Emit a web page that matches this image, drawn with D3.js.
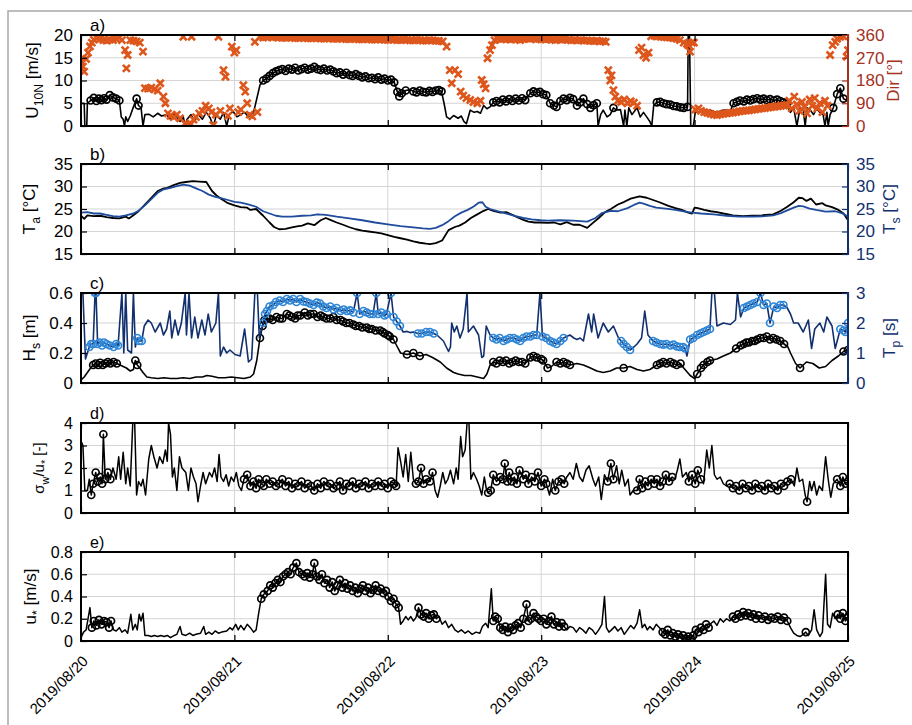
<!DOCTYPE html>
<html lang="en">
<head>
<meta charset="utf-8">
<title>Wind, temperature, waves and turbulence, 2019/08/20 - 2019/08/25</title>
<script src="https://cdn.jsdelivr.net/npm/d3@7"></script>
<style>
  body { margin: 0; background: #fff; }
</style>
</head>
<body>
<svg id="chart" width="912" height="725"></svg>
<script>
// time is in hours since 2019/08/20 00:00
const dayTicks = [0, 24, 48, 72, 96, 120];
const dayLabels = ['2019/08/20', '2019/08/21', '2019/08/22', '2019/08/23', '2019/08/24', '2019/08/25'];

// a) wind speed U10N [m/s] and direction [deg]
const u10n = [[0,5],[0.5,5],[0.6,0],[0.9,0],[1.0,5],[1.5,5.6],[2,6.2],[2.4,5.5],[2.8,6],[3.2,5.7],[3.6,6.1],[4,5.8],[4.5,6.8],[5,6.3],[5.5,6],[6,5.6],[6.3,2],[6.6,1.5],[6.8,0],[7,2],[7.3,1],[7.7,2.2],[8.2,4.2],[8.7,6],[9,4.5],[9.4,4],[9.7,0],[10,2.5],[10.6,2.6],[11.3,2],[12,2.8],[12.6,2.2],[13.4,2.5],[14,1.5],[14.5,2.8],[15,2],[15.5,1],[16,2],[16.3,0],[16.6,1.5],[17.2,2.5],[17.8,1],[18.3,2.6],[19,1.5],[19.6,3],[20.2,1.8],[20.7,0],[21.2,2.5],[21.8,1.5],[22.3,3],[22.8,0],[23.2,2.5],[23.8,3.2],[24.4,2],[25,2.5],[25.6,3],[26.2,2],[27,3],[27.5,6],[28,9],[28.5,10],[29,10.4],[29.5,11],[30,11.6],[30.5,12],[31,12.3],[31.5,12.5],[32,12.1],[32.5,12.6],[33,12.4],[33.5,12.8],[34,12.2],[34.5,12.5],[35,12.8],[35.5,12.4],[36,12.6],[36.5,13],[37,12.5],[37.5,12.3],[38,12.6],[38.5,12.2],[39,12.4],[39.5,12],[40,11.6],[40.5,11.8],[41,11.3],[41.5,11.7],[42,11.2],[42.5,11],[43,11.4],[43.5,11],[44,10.7],[44.5,10.9],[45,10.5],[45.5,10.6],[46,10.3],[46.5,10.7],[47,10.2],[47.5,10.4],[48,10],[48.5,10.2],[49,9.6],[49.5,7.5],[49.8,6.5],[50.2,7.2],[50.8,7.8],[51.5,8],[52,7.6],[52.5,7.4],[53,7.8],[53.5,7.5],[54,7.4],[54.5,7.7],[55,7.5],[55.5,7.8],[56,7.9],[56.4,7.6],[56.8,5],[57.2,2],[57.7,1.5],[58.3,2.3],[59,1.7],[59.5,2.2],[59.9,1],[60.3,0.5],[60.9,3.5],[61.5,3],[62,3.2],[62.5,2.8],[63,4.5],[63.5,3.8],[64,4.2],[64.5,5.2],[65,5.5],[65.5,5.2],[66,5.8],[66.5,5.4],[67,5.9],[67.5,5.5],[68,6],[68.5,5.6],[69,6.1],[69.5,5.7],[70.3,7.2],[70.8,7.6],[71.3,7.3],[71.8,7.5],[72.3,7],[72.8,6.8],[73.4,5],[74,4.5],[74.4,4.2],[75,5.5],[75.5,6],[76,5.7],[76.5,6.2],[77,5.9],[77.6,4.5],[78.1,5.2],[78.6,6],[79.2,4.8],[79.7,4],[80.2,4.6],[80.7,5],[80.9,0],[81.3,2.5],[81.7,3.5],[82.3,2],[82.8,2.5],[83.3,4],[83.8,3.5],[84.4,3.6],[84.9,0],[85.1,3.5],[85.4,0],[85.7,4],[86.2,2.5],[87,4],[87.5,2],[88,3],[88.5,2],[89,1],[89.3,0],[89.6,4.5],[90.1,5.2],[90.6,5.3],[91.1,5],[91.6,4.8],[92.2,4.7],[92.7,4.4],[93.2,4.3],[93.8,4.1],[94.3,4],[94.9,4.2],[95,20],[95.2,20],[95.4,0],[95.8,0],[96.1,3],[96.8,3.2],[97.4,3],[98,3.3],[98.4,3.5],[99,3.2],[99.5,3],[100.5,3.5],[101.6,3.4],[102.1,5],[102.6,5.3],[103.1,5.6],[103.7,5.4],[104.2,5.8],[104.7,5.6],[105.2,5.9],[105.8,6.1],[106.3,5.8],[106.8,6],[107.3,5.7],[107.8,5.9],[108.4,5.6],[108.9,5.8],[109.4,5.5],[109.9,5.2],[110.4,4.8],[111,3],[111.5,4],[112,0],[112.5,4],[113,3.5],[113.3,0],[113.6,4],[114.1,3.5],[114.6,2.5],[115.1,3.8],[115.6,3],[116.1,2.5],[116.4,0],[116.7,3],[116.9,0],[117.2,2.5],[117.7,4],[118.3,7],[118.8,8.3],[119.3,6],[120,5.5]];
const u10nFlag = [[1.5,6],[8.5,9.2],[28.5,49.9],[50.2,50.8],[52,56.4],[64.5,80.7],[83.3,83.3],[90.1,94.9],[102.1,110.4],[117.7,119.5]];
const windDir = [[0,255],[0.3,235],[0.5,215],[0.8,265],[1.1,290],[1.4,315],[1.7,330],[2,342],[2.5,348],[3,345],[3.5,340],[4,338],[4.5,342],[5,340],[5.5,345],[6,350],[6.4,340],[6.9,300],[7.1,228],[7.3,281],[7.7,340],[8.2,338],[8.7,335],[9.2,330],[9.7,294],[10,150],[10.5,148],[11,152],[11.5,145],[12,140],[12.4,169],[12.9,116],[13.2,90],[13.6,50],[14,40],[14.5,35],[15,45],[15.5,30],[16,353],[16.3,10],[16.8,4],[17.2,8],[17.3,353],[17.6,25],[18,35],[18.5,50],[19,60],[19.5,80],[20,70],[20.4,55],[20.7,4],[21.1,45],[21.5,353],[21.8,60],[22.3,221],[22.6,195],[23,40],[23.3,70],[23.6,314],[24,290],[24.3,300],[24.6,55],[25,65],[25.4,162],[25.7,136],[26,90],[26.4,45],[26.8,38],[27.2,333],[27.6,55],[28,353],[28.5,350],[29,352],[29.5,355],[30,350],[30.5,352],[31,351],[31.5,349],[32,349],[32.5,351],[33,350],[33.5,348],[34,348],[34.5,350],[35,349],[35.5,347],[36,347],[36.5,349],[37,348],[37.5,346],[38,346],[38.5,348],[39,347],[39.5,345],[40,345],[40.5,347],[41,346],[41.5,344],[42,344],[42.5,346],[43,345],[43.5,343],[44,343],[44.5,345],[45,344],[45.5,342],[46,342],[46.5,344],[47,343],[47.5,341],[48,341],[48.5,343],[49,342],[49.5,340],[50,340],[50.5,342],[51,341],[51.5,339],[52,339],[52.5,341],[53,340],[53.5,338],[54,338],[54.5,340],[55,339],[55.5,337],[56,337],[56.6,335],[57.2,314],[57.7,221],[58,169],[58.5,221],[59,205],[59.4,136],[59.8,120],[60.3,110],[60.9,103],[61.4,95],[62,90],[62.5,100],[62.7,182],[63,165],[63.3,149],[63.6,268],[64,300],[64.3,320],[64.7,340],[65.2,345],[65.7,343],[66.2,346],[66.7,344],[67.2,342],[67.7,345],[68.2,343],[68.7,340],[69.2,344],[69.7,346],[70.2,345],[70.7,347],[71.2,343],[71.7,345],[72.2,344],[72.7,342],[73.2,345],[73.7,342],[74.2,340],[74.7,343],[75.2,341],[75.7,343],[76.2,341],[76.7,339],[77.2,341],[77.7,339],[78.2,340],[78.7,338],[79.2,339],[79.7,337],[80.2,336],[80.7,338],[81.2,335],[81.7,336],[82.1,333],[82.5,221],[82.8,180],[83,200],[83.3,142],[83.6,116],[84,100],[84.5,95],[85,105],[85.5,90],[86,98],[86.5,92],[87,80],[87.3,300],[87.7,310],[88,280],[88.4,270],[88.8,290],[89.2,355],[89.7,358],[90.2,355],[90.7,353],[91.2,352],[91.7,351],[92.2,350],[92.7,348],[93.2,345],[93.7,340],[94.3,330],[94.8,325],[95,320],[95.3,294],[95.6,330],[95.9,330],[96.1,65],[96.6,70],[97,60],[97.5,55],[98,52],[98.5,48],[99,45],[99.5,43],[100,46],[100.5,48],[101,50],[101.5,52],[102,53],[102.5,55],[103,58],[103.5,60],[104,61],[104.5,62],[105,64],[105.5,66],[106,68],[106.5,70],[107,71],[107.5,73],[108,75],[108.5,76],[109,78],[109.5,80],[110,81],[110.4,83],[110.8,100],[111.2,70],[111.6,116],[112,85],[112.4,60],[112.8,95],[113.2,75],[113.6,50],[114,105],[114.4,80],[114.8,110],[115.2,70],[115.6,90],[116,55],[116.4,100],[116.8,80],[117.2,281],[117.6,320],[118,333],[118.3,345],[118.8,353],[119.3,355],[119.8,274],[120,300]];

// b) air and surface temperature [degC]
const airTemp = [[0,23.5],[0.5,22.8],[1,23.6],[2,23.4],[3,23.5],[4,23.2],[5,23],[6,22.9],[7,23.3],[7.5,22.9],[8.2,23.6],[9,24.5],[10,26],[11,27.5],[12,29],[12.8,29.5],[13.5,29.7],[14.5,30.3],[15.5,30.8],[16.4,31],[17.5,31.2],[18.5,31.1],[19.6,31],[20.5,29],[21.2,28],[21.9,27.3],[23,26.3],[24,25.8],[25,25.4],[26,25.3],[26.5,24.8],[27.4,25],[28.5,23.5],[29.5,22],[30.2,21],[31,20.5],[32,20.6],[33,20.9],[34,21.2],[34.6,21.3],[35.5,21.8],[36.5,21.4],[37.5,22.5],[38.3,23.0],[39,22.6],[40,22],[41,21.5],[41.9,21],[43,20.5],[44,20.2],[45,20],[46,19.8],[47,19.6],[48,19.2],[49,18.8],[50,18.5],[51,18.2],[52,17.8],[53,17.5],[54,17.3],[54.6,17.2],[55.5,17.4],[56.5,18],[57.5,20.3],[58.5,21],[59.2,21.3],[60.1,22],[61,23],[62,23.8],[63,24.6],[63.7,25],[64.5,24.6],[65.6,24.2],[66.5,24.3],[67.5,23.7],[68.5,23],[69.2,22.6],[70,22.2],[71,22],[71.9,22],[73,21.9],[74,22],[75,21.6],[76,22.1],[77,21.5],[78,21.5],[79.2,20.8],[80,21.8],[81,23],[82,24.3],[82.9,25],[84,26],[85,26.6],[86,27.3],[87.4,27.8],[88.5,27.5],[89.5,27],[90.5,26.5],[91.9,25.7],[93,25.2],[94,24.8],[95,24.2],[95.6,24],[96,25.3],[96.5,25.2],[97.5,24.8],[98.5,24.5],[99.5,24.3],[100.5,24],[102,23.6],[103.5,23.4],[105,23.5],[106.5,23.6],[108.3,23.8],[109.5,24.6],[110.5,25.5],[111.5,26.5],[112.3,27.5],[112.9,27.4],[113.5,26.8],[114.2,27.3],[115,26],[116,26.3],[116.5,25.8],[117.5,25.4],[118.5,24.8],[119.3,24],[120,22.5]];
const surfTemp = [[0,24.2],[1,24.3],[2,24],[3,24],[4,23.7],[5,23.4],[6,23.3],[7,23.6],[8.2,24],[9,24.6],[10,25.8],[11,27.2],[12,28.6],[12.8,29.3],[14,29.7],[15,30.1],[16,30.4],[17,30.2],[18,29.6],[19,29],[20,28.2],[21,27.7],[21.9,27.4],[23,27],[24,26.6],[25,26.4],[26,26.1],[27.4,25.5],[28.5,24.5],[29.5,24],[30.5,23.5],[31.5,23.3],[33,23.3],[34.6,23.5],[36,23.6],[37,23.8],[38.3,23.7],[40,23.3],[42,22.9],[44,22.5],[46,22],[48,21.6],[50,21.2],[52,20.9],[53.5,20.7],[54.6,20.6],[55.5,20.8],[56.5,21.4],[57.5,22.3],[58.5,23.4],[59.5,24.2],[60.5,24.8],[61.5,25.6],[62.2,26.4],[62.8,26.5],[63.3,25.5],[64,25],[65,24.6],[66,24.2],[67,23.8],[68,23.4],[69.2,23],[70.5,22.7],[71.9,22.5],[73,22.4],[75,22.5],[77,22.4],[79.2,22.2],[80.5,23],[81.5,24.1],[82.9,24.6],[84,24.5],[85.5,25.2],[86.5,25.9],[87.4,26.4],[88,26.2],[89,25.7],[90,25.3],[91.5,25.1],[93,24.8],[94.5,24.4],[95.6,24.2],[97,24],[99,23.8],[101,23.5],[103,23.3],[105,23.3],[107,23.4],[108.3,23.6],[109.5,24.1],[110.5,24.7],[111.5,25.3],[112.3,25.7],[113,25.6],[114,25.1],[115,24.8],[116.5,24.4],[118,24.5],[119,24.1],[120,23.3]];

// c) significant wave height Hs [m] and peak period Tp [s]
const waveHs = [[0,0.02],[0.5,0.04],[1,0.07],[1.5,0.1],[1.9,0.12],[2.3,0.13],[2.7,0.12],[3,0.135],[3.4,0.12],[3.8,0.13],[4.2,0.14],[4.6,0.13],[5.1,0.14],[5.6,0.13],[6.1,0.12],[6.6,0.11],[7.1,0.1],[7.7,0.08],[8.2,0.09],[8.5,0.15],[8.8,0.12],[9.2,0.1],[9.7,0.07],[10.3,0.04],[11,0.035],[12,0.03],[13,0.035],[14,0.03],[15,0.03],[16,0.035],[17,0.03],[18,0.04],[19,0.04],[19.7,0.05],[20.5,0.045],[21.5,0.035],[22.5,0.035],[23.5,0.04],[24.5,0.035],[25.5,0.03],[26.5,0.04],[27,0.06],[27.5,0.15],[28,0.3],[28.4,0.38],[28.7,0.42],[29.1,0.43],[29.5,0.43],[30,0.42],[30.6,0.44],[31.1,0.43],[31.5,0.43],[32.2,0.46],[32.6,0.45],[33,0.44],[33.5,0.43],[33.9,0.45],[34.3,0.45],[35,0.47],[35.5,0.45],[35.9,0.46],[36.4,0.46],[37,0.44],[37.5,0.45],[37.9,0.44],[38.4,0.43],[39,0.43],[39.5,0.44],[40,0.42],[40.6,0.42],[41,0.41],[41.5,0.4],[42,0.4],[42.6,0.39],[43,0.38],[43.5,0.38],[44,0.37],[44.7,0.37],[45.1,0.36],[45.5,0.36],[46.1,0.35],[46.8,0.35],[47.2,0.34],[47.5,0.33],[48,0.32],[48.3,0.31],[48.9,0.29],[49.5,0.24],[50,0.2],[51,0.19],[52,0.2],[53,0.18],[54,0.19],[55,0.17],[56.2,0.14],[57.2,0.1],[58.3,0.07],[59,0.06],[60,0.05],[61,0.05],[62,0.04],[63,0.03],[63.5,0.06],[64,0.12],[64.5,0.14],[65,0.13],[65.5,0.15],[66,0.14],[66.5,0.15],[67,0.13],[67.5,0.14],[68,0.15],[68.5,0.14],[69,0.14],[69.5,0.13],[70.3,0.17],[70.8,0.18],[71.3,0.17],[72,0.16],[72.3,0.15],[73,0.1],[73.6,0.11],[74.4,0.14],[75,0.13],[75.5,0.14],[76,0.13],[76.5,0.12],[77.6,0.13],[78.6,0.12],[79.7,0.1],[80.7,0.08],[81.7,0.07],[82.8,0.08],[83.8,0.1],[84.9,0.1],[85.9,0.11],[87,0.09],[88,0.08],[89,0.09],[90.1,0.12],[90.6,0.13],[91.1,0.14],[91.6,0.13],[92.2,0.14],[92.7,0.13],[93.2,0.12],[93.8,0.13],[94.3,0.1],[95.3,0.05],[96,0.03],[96.4,0.06],[97,0.1],[97.4,0.12],[98,0.14],[98.4,0.15],[99.5,0.16],[100.5,0.18],[101.6,0.2],[102.5,0.23],[103.2,0.25],[103.7,0.26],[104.1,0.27],[104.5,0.27],[105,0.28],[105.4,0.28],[105.8,0.29],[106.3,0.3],[106.8,0.3],[107.3,0.31],[107.8,0.29],[108.3,0.3],[108.8,0.29],[109.4,0.28],[110,0.26],[110.6,0.24],[111,0.2],[111.8,0.13],[112.5,0.1],[113.5,0.14],[114.5,0.13],[115.5,0.1],[116.5,0.11],[117.5,0.15],[118.5,0.18],[119.3,0.21],[120,0.22]];
const waveHsFlag = [[1.9,5.6],[8.3,9],[28,49],[51,53.2],[64.3,72.3],[73,73],[74.3,76.5],[84,85],[90.1,93.8],[96.4,98.4],[102.5,110],[112.5,112.5],[119.3,120]];
const peakTp = [[0,3],[0.3,3],[0.7,0.8],[1.3,1.2],[1.6,1.3],[1.9,1.3],[2.2,3],[2.35,3],[2.6,1.3],[2.9,1.35],[3.3,1.25],[3.6,1.35],[4,1.3],[4.5,1.25],[5.1,1.2],[5.5,1.3],[5.8,1.25],[6.4,3],[6.7,1.0],[7,3],[7.3,1.1],[7.9,1.0],[8.2,3],[8.5,1.2],[8.8,1.5],[9.1,1.4],[9.5,1.4],[9.9,1.9],[10.5,2.1],[11,2.0],[11.6,1.7],[12.4,2.0],[12.9,1.6],[13.4,1.8],[13.9,2.4],[14.2,1.5],[14.7,2.1],[15.2,1.6],[15.7,2.0],[16.3,3],[16.5,1.6],[16.9,3],[17.3,1.5],[17.8,2.2],[18.3,1.5],[18.9,2.1],[19.4,1.6],[19.9,2.3],[20.4,1.7],[21.1,2.0],[21.5,3],[21.8,0.9],[22.3,1.2],[22.8,1.0],[23.3,1.1],[24.1,0.95],[24.9,0.9],[25.6,1.8],[26.2,0.7],[26.7,0.8],[27.2,3],[27.6,3],[27.9,1.5],[28.5,2.0],[28.8,2.3],[29.1,2.4],[29.5,2.55],[30.1,2.6],[30.5,2.7],[31.1,2.75],[31.6,2.7],[32.2,2.8],[32.7,2.75],[33.2,2.8],[33.7,2.7],[34.3,2.8],[34.8,2.72],[35.3,2.7],[35.8,2.65],[36.4,2.6],[36.9,2.68],[37.4,2.65],[37.9,2.55],[38.4,2.5],[39,2.55],[39.5,2.45],[40,2.5],[40.6,2.4],[41.1,2.45],[41.6,2.4],[42.1,2.42],[42.6,2.35],[43.2,3],[43.6,2.3],[44.2,2.4],[44.7,2.35],[45.2,2.3],[45.7,2.3],[46.2,3],[46.5,2.3],[47,2.35],[47.5,2.25],[47.8,2.3],[48.5,3],[48.9,2.2],[49.4,2.05],[49.9,1.9],[50.4,1.7],[51,1.72],[51.5,1.68],[52,1.7],[52.7,1.65],[53.3,1.65],[54,1.7],[54.6,1.7],[55.2,1.65],[55.7,1.6],[56.2,1.5],[56.7,1.4],[57.5,1.05],[57.8,1.2],[58,2.0],[58.4,1.7],[58.8,1.9],[59.3,1.5],[59.8,1.8],[60.4,3],[60.6,1.7],[61.4,1.9],[62.2,1.6],[62.7,0.85],[63,0.9],[63.4,1.9],[64,1.6],[64.5,1.5],[65,1.45],[65.5,1.5],[66.1,1.4],[66.6,1.45],[67.1,1.5],[67.7,1.5],[68.2,1.45],[68.7,1.4],[69.2,1.5],[69.7,1.55],[70.3,1.55],[70.8,1.6],[71.3,1.6],[71.8,3],[72.2,1.55],[72.8,1.5],[73.4,1.4],[73.9,1.35],[74.4,1.3],[75,1.4],[75.5,1.5],[76,1.55],[76.5,1.6],[77.1,1.5],[77.6,1.45],[78.1,1.5],[78.6,1.4],[79.4,2.3],[79.9,1.7],[80.2,2.3],[80.9,1.5],[81.7,2.0],[82.5,1.7],[83.3,1.9],[84.1,1.5],[84.5,1.4],[84.9,1.3],[85.4,1.2],[85.9,1.1],[86.5,1.2],[87,1.3],[87.7,1.5],[88.2,2.4],[88.7,1.6],[89.5,1.4],[90,1.35],[90.6,1.3],[91.1,1.28],[91.6,1.3],[92.2,1.25],[92.7,1.28],[93.2,1.22],[93.7,1.2],[94.2,1.2],[94.5,1.15],[94.8,0.9],[95.3,1.45],[95.8,1.5],[96.4,1.6],[96.9,1.65],[97.4,1.7],[97.9,1.75],[98.4,1.8],[98.7,3],[99.1,3],[99.5,1.9],[100.5,2.0],[101.6,1.95],[102.4,2.1],[102.7,3],[103.2,2.2],[103.7,2.5],[104.2,2.55],[104.7,2.6],[105.2,2.65],[105.8,2.7],[106.3,3],[106.8,2.6],[107.3,2.65],[107.8,2.0],[108.4,2.55],[108.9,2.5],[109.4,2.6],[109.9,2.6],[110.5,2.5],[111,2.3],[111.5,2.0],[112.2,2.0],[113,1.7],[113.8,2.1],[114.3,1.15],[114.8,1.8],[115.6,2.0],[116.2,1.7],[116.7,2.2],[117.5,1.9],[118,1.15],[118.8,1.8],[119.3,1.75],[119.6,1.7],[120,2.0]];
const peakTpFlag = [[1.3,5.8],[8.8,9.6],[28.5,50],[52.5,55.2],[64.5,71.3],[72.2,75.5],[84.5,86],[89.5,94.5],[95.3,98.4],[103.5,110],[118.8,120]];

// d) normalised vertical velocity std sigma_w/u* [-]
const sigmaW = [[0,3.2],[0.3,3.0],[0.6,1.0],[1.0,1.0],[1.3,1.5],[1.6,0.8],[1.9,1.3],[2.3,1.8],[2.6,1.4],[3.0,1.6],[3.3,1.3],[3.5,3.5],[3.8,1.5],[4.2,1.8],[4.6,1.5],[5.0,2.0],[5.5,1.5],[5.9,2.5],[6.2,1.5],[6.6,2.7],[7.0,1.3],[7.3,2.0],[7.7,1.2],[8.1,4],[8.4,4],[8.7,0.8],[9.0,1.4],[9.4,1.2],[9.7,1.5],[10.1,0.8],[10.6,2.4],[11.0,3.0],[11.4,2.5],[11.9,2.0],[12.3,2.5],[12.8,2.2],[13.2,2.8],[13.5,2.3],[13.7,4],[14.0,3.5],[14.3,1.6],[14.6,2.0],[15,1.0],[15.4,2.5],[15.8,2.0],[16.4,1.8],[16.8,1.0],[17.2,2.0],[17.6,1.6],[18.0,1.3],[18.3,0.5],[18.7,1.2],[19.1,1.8],[19.5,1.3],[20.1,1.8],[20.5,1.6],[20.9,2.0],[21.3,1.4],[21.6,2.6],[21.9,1.6],[22.3,1.4],[22.7,1.7],[23.1,1.2],[23.5,1.6],[23.9,1.4],[24.3,1.8],[24.7,1.2],[25.1,1.0],[25.5,1.5],[26,1.7],[26.5,1.2],[27,1.4],[27.4,1.1],[27.8,1.5],[28.2,1.3],[28.6,1.2],[29,1.5],[29.5,1.3],[30,1.4],[30.5,1.2],[31,1.3],[31.5,1.5],[32,1.2],[32.5,1.4],[33,1.1],[33.5,1.3],[34,1.2],[34.5,1.4],[35,1.1],[35.5,1.3],[36,1.2],[36.5,1.0],[37,1.3],[37.5,1.1],[38,1.4],[38.5,1.2],[39,1.3],[39.5,1.1],[40,1.2],[40.5,1.4],[41,1.0],[41.5,1.3],[42,1.2],[42.5,1.4],[43,1.1],[43.5,1.3],[44,1.2],[44.5,1.4],[45,1.1],[45.5,1.3],[46,1.2],[46.5,1.4],[47,1.2],[47.5,1.3],[48,1.1],[48.5,1.4],[49,1.3],[49.3,1.2],[49.6,2.9],[50,2.3],[50.4,1.6],[50.8,2.6],[51.2,1.4],[51.6,2.7],[52,1.5],[52.4,1.3],[52.8,1.4],[53.2,2.0],[53.6,1.3],[54,1.5],[54.6,1.4],[55,1.8],[55.4,1.0],[55.8,0.7],[56.2,1.2],[56.6,1.8],[57,1.3],[57.4,1.5],[57.8,1.9],[58.3,1.3],[58.7,2.0],[59,1.5],[59.4,3.4],[59.7,2.5],[60.1,2.8],[60.4,4],[60.7,4],[61,1.5],[61.4,1.8],[61.9,1.5],[62.3,1.2],[62.7,0.8],[63.1,1.6],[63.4,1.1],[63.7,0.9],[64.1,1.0],[64.5,1.7],[65,1.4],[65.6,1.6],[66,1.5],[66.3,2.2],[66.7,1.4],[67,1.8],[67.4,1.4],[67.8,1.6],[68.2,1.3],[68.6,1.9],[69.2,1.5],[69.6,1.7],[70,1.3],[70.5,1.6],[71,1.4],[71.5,1.8],[72,1.2],[72.5,1.5],[72.8,1.3],[73.3,0.8],[73.8,1.5],[74.2,1.0],[74.7,1.4],[75.2,1.5],[75.6,1.3],[76,1.6],[76.5,1.8],[77,1.5],[77.5,2.2],[78,1.6],[78.5,1.4],[79,1.9],[79.5,2.1],[80.1,1.5],[80.5,1.2],[81,1.6],[81.4,0.6],[81.9,1.7],[82.4,1.4],[82.9,2.2],[83.3,1.5],[83.8,2.1],[84.2,1.3],[84.6,1.9],[85.1,1.2],[85.6,1.5],[85.9,0.8],[86.4,1.0],[87,1.0],[87.4,1.5],[87.8,1.1],[88.3,1.4],[88.7,1.2],[89.2,1.5],[89.7,1.3],[90.1,1.5],[90.6,1.2],[91,1.4],[91.5,1.7],[92,1.4],[92.5,1.6],[92.9,1.5],[93.3,1.9],[93.7,2.4],[94.1,1.6],[94.7,1.8],[95.1,1.4],[95.6,1.7],[96.1,1.3],[96.5,1.9],[97,1.5],[97.4,1.3],[97.9,2.8],[98.3,2.0],[98.7,3.0],[99.1,1.7],[99.5,1.5],[100,1.6],[100.5,1.3],[101,1.2],[101.5,1.3],[102,1.1],[102.5,1.2],[103,1.0],[103.5,1.3],[104,1.1],[104.5,1.2],[105,1.0],[105.5,1.3],[106,1.1],[106.5,1.2],[107,1.0],[107.5,1.3],[108,1.1],[108.5,1.2],[109,1.0],[109.5,1.3],[110,1.2],[110.5,1.4],[111.1,1.5],[111.6,1.2],[112,2.0],[112.4,1.4],[112.9,1.5],[113.3,0.8],[113.6,0.5],[114,1.4],[114.3,1.0],[114.7,1.4],[115.1,0.8],[115.5,1.2],[116,1.0],[116.5,2.5],[116.9,1.5],[117.3,0.7],[117.7,1.3],[118.3,1.5],[118.8,1.2],[119.2,1.6],[119.6,1.3],[120,1.4]];
const sigmaWFlag = [[1.5,4.6],[25.5,49.3],[52.4,55.2],[63.7,73],[74.2,75.6],[82.4,83.3],[87,92.5],[95,97],[101.5,111.1],[113.6,113.6],[118.3,120]];

// e) friction velocity u* [m/s]
const uStar = [[0,0.03],[0.4,0.08],[0.8,0.1],[1.4,0.3],[1.7,0.12],[2,0.18],[2.4,0.14],[2.8,0.19],[3.2,0.15],[3.6,0.18],[4,0.17],[4.4,0.12],[4.7,0.18],[5.1,0.1],[5.5,0.09],[6,0.12],[6.4,0.08],[6.9,0.1],[7.3,0.07],[7.8,0.24],[8.1,0.1],[8.5,0.15],[8.8,0.1],[9.1,0.24],[9.4,0.18],[9.7,0.25],[10,0.05],[10.5,0.05],[11,0.04],[11.5,0.05],[12,0.04],[12.5,0.05],[13,0.04],[13.5,0.05],[14,0.03],[14.6,0.05],[15,0.06],[15.5,0.13],[15.8,0.06],[16.4,0.05],[17,0.07],[17.5,0.05],[18,0.06],[18.7,0.07],[19.2,0.13],[19.5,0.06],[20,0.08],[20.5,0.06],[21,0.09],[21.5,0.07],[22,0.08],[22.8,0.09],[23.3,0.12],[23.7,0.1],[24.2,0.15],[24.6,0.1],[25,0.14],[25.5,0.1],[26,0.15],[26.5,0.12],[27,0.08],[27.4,0.1],[27.8,0.25],[28.2,0.38],[28.6,0.42],[29.2,0.45],[29.6,0.5],[30,0.48],[30.4,0.52],[30.8,0.55],[31.2,0.53],[31.6,0.58],[32,0.6],[32.4,0.62],[32.8,0.6],[33.2,0.66],[33.7,0.7],[34.1,0.62],[34.6,0.6],[35,0.58],[35.4,0.61],[35.8,0.57],[36.2,0.6],[36.5,0.7],[36.9,0.58],[37.3,0.55],[37.7,0.6],[38.1,0.52],[38.5,0.55],[38.9,0.48],[39.3,0.53],[39.7,0.45],[40.1,0.5],[40.5,0.55],[40.9,0.48],[41.3,0.52],[41.7,0.47],[42.1,0.5],[42.5,0.45],[42.9,0.48],[43.3,0.43],[43.7,0.47],[44.1,0.5],[44.5,0.45],[44.9,0.48],[45.3,0.43],[45.7,0.46],[46.1,0.5],[46.5,0.45],[46.9,0.47],[47.3,0.43],[47.7,0.45],[48.1,0.4],[48.5,0.36],[48.9,0.38],[49.3,0.33],[49.7,0.3],[50,0.15],[50.4,0.18],[50.8,0.22],[51.2,0.19],[51.6,0.22],[52,0.18],[52.4,0.21],[52.8,0.3],[53.2,0.24],[53.6,0.22],[54,0.25],[54.4,0.2],[54.8,0.23],[55.2,0.24],[55.6,0.2],[56,0.22],[56.5,0.15],[57,0.18],[57.5,0.12],[58,0.15],[58.5,0.1],[59,0.08],[59.5,0.1],[60.1,0.07],[60.6,0.09],[61.2,0.06],[61.8,0.08],[62.4,0.07],[62.8,0.13],[63.3,0.16],[63.7,0.12],[64.2,0.47],[64.5,0.18],[64.8,0.22],[65.2,0.2],[65.6,0.12],[66,0.1],[66.4,0.13],[66.8,0.08],[67.2,0.12],[67.6,0.1],[68,0.14],[68.4,0.16],[68.8,0.12],[69.2,0.2],[69.7,0.33],[70,0.18],[70.4,0.2],[70.8,0.25],[71.2,0.22],[71.6,0.2],[72,0.18],[72.4,0.2],[72.8,0.15],[73.2,0.18],[73.6,0.22],[74,0.15],[74.4,0.17],[74.8,0.13],[75.2,0.16],[75.6,0.13],[76,0.1],[76.5,0.13],[77,0.12],[77.5,0.08],[78,0.12],[78.5,0.1],[79,0.07],[79.5,0.12],[80,0.1],[80.5,0.06],[81,0.1],[81.5,0.15],[81.9,0.4],[82.2,0.12],[82.6,0.08],[83,0.1],[83.5,0.13],[84,0.09],[84.5,0.12],[85,0.06],[85.5,0.1],[86,0.14],[86.5,0.11],[87,0.16],[87.4,0.28],[87.8,0.12],[88.2,0.15],[88.6,0.1],[89,0.13],[89.5,0.1],[90,0.15],[90.5,0.12],[91,0.08],[91.4,0.06],[91.8,0.1],[92.2,0.05],[92.6,0.07],[93,0.04],[93.4,0.06],[93.8,0.03],[94.2,0.05],[94.6,0.02],[95,0.04],[95.4,0.02],[95.8,0.05],[96.2,0.1],[96.6,0.08],[97,0.12],[97.4,0.1],[97.8,0.15],[98.2,0.12],[98.6,0.16],[99,0.18],[99.5,0.14],[100,0.2],[100.5,0.17],[101,0.2],[101.5,0.18],[102,0.22],[102.4,0.2],[102.8,0.24],[103.2,0.22],[103.6,0.26],[104,0.23],[104.4,0.25],[104.8,0.22],[105.2,0.24],[105.6,0.2],[106,0.23],[106.5,0.2],[107,0.22],[107.5,0.19],[108,0.21],[108.5,0.2],[109,0.22],[109.5,0.19],[110,0.21],[110.5,0.18],[111,0.12],[111.5,0.07],[112,0.05],[112.5,0.04],[113,0.06],[113.4,0.08],[113.8,0.05],[114.3,0.1],[114.7,0.28],[115.1,0.1],[115.6,0.04],[116,0.08],[116.5,0.6],[116.8,0.15],[117.2,0.12],[117.6,0.25],[118,0.2],[118.4,0.24],[118.8,0.2],[119.2,0.25],[119.6,0.18],[120,0.22]];
const uStarFlag = [[1.7,4.7],[28.2,49.7],[52.8,55.6],[64.5,72],[72.4,75.6],[91,95.8],[96.2,98.2],[102,110.5],[113.4,113.4],[118.4,120]];

const FONT = '"Liberation Sans", Arial, sans-serif';
const RED = '#a3321f', ORANGE = '#dd561b', NAVY = '#12306e', BLUE = '#1f4c9c', LIGHTBLUE = '#2f86d6';
const X0 = 81, X1 = 848;

const svg = d3.select('#chart');
const x = d3.scaleLinear().domain([0, 120]).range([X0, X1]);

// light grey frame around the whole figure
svg.append('rect')
    .attr('x', 8).attr('y', 11).attr('width', 1000).attr('height', 1000)
    .attr('fill', 'none').attr('stroke', '#a8a8a8').attr('stroke-width', 1.5);

let clipCount = 0;
function makePanel(top, bottom, letter, domain, ticks, fontSize) {
    const y = d3.scaleLinear().domain(domain).range([bottom, top]);
    const grid = svg.append('g').attr('stroke', '#d4d4d4').attr('stroke-width', 1);
    grid.selectAll(null).data(ticks.slice(1, -1)).join('line')
        .attr('x1', X0).attr('x2', X1)
        .attr('y1', d => y(d)).attr('y2', d => y(d));
    grid.selectAll(null).data(dayTicks.slice(1, -1)).join('line')
        .attr('x1', d => x(d)).attr('x2', d => x(d))
        .attr('y1', top).attr('y2', bottom);

    const id = 'clip' + (clipCount++);
    svg.append('clipPath').attr('id', id).append('rect')
        .attr('x', X0).attr('y', top).attr('width', X1 - X0).attr('height', bottom - top);
    const plot = svg.append('g').attr('clip-path', 'url(#' + id + ')');

    svg.append('text')
        .attr('x', X0 + 9).attr('y', top - 4)
        .attr('font-family', FONT).attr('font-size', fontSize)
        .text(letter);
    return { top, bottom, y, ticks, plot, fontSize };
}

function styleAxis(g, color, fontSize) {
    g.select('.domain').remove();
    g.selectAll('line').attr('stroke', color).attr('stroke-width', 1.2);
    g.selectAll('text').attr('fill', color).attr('font-family', FONT).attr('font-size', fontSize);
}

function drawFrame(p, right) {
    const g = svg.append('g');
    g.append('g').attr('transform', 'translate(0,' + p.bottom + ')')
        .call(d3.axisBottom(x).tickValues(dayTicks).tickSize(-6).tickSizeOuter(0).tickFormat(''))
        .call(a => styleAxis(a, '#000', p.fontSize));
    g.append('g').attr('transform', 'translate(0,' + p.top + ')')
        .call(d3.axisTop(x).tickValues(dayTicks).tickSize(-6).tickSizeOuter(0).tickFormat(''))
        .call(a => styleAxis(a, '#000', p.fontSize));
    g.append('g').attr('transform', 'translate(' + X0 + ',0)')
        .call(d3.axisLeft(p.y).tickValues(p.ticks).tickSize(-6).tickSizeOuter(0).tickPadding(8).tickFormat(d => String(d)))
        .call(a => styleAxis(a, '#000', p.fontSize));
    g.append('rect')
        .attr('x', X0).attr('y', p.top).attr('width', X1 - X0).attr('height', p.bottom - p.top)
        .attr('fill', 'none').attr('stroke', '#000').attr('stroke-width', 2);
    if (right) {
        g.append('g').attr('transform', 'translate(' + X1 + ',0)')
            .call(d3.axisRight(right.y).tickValues(right.ticks).tickSize(-6).tickSizeOuter(0).tickPadding(8).tickFormat(d => String(d)))
            .call(a => styleAxis(a, right.color, p.fontSize));
        g.append('line')
            .attr('x1', X1).attr('x2', X1).attr('y1', p.top - 1).attr('y2', p.bottom + 1)
            .attr('stroke', right.color).attr('stroke-width', 2);
    }
}

// vertical axis title, parts = [[text, isSubscript], ...]
function yTitle(xPos, p, parts, color, fontSize) {
    const t = svg.append('text')
        .attr('transform', 'translate(' + xPos + ',' + (p.top + p.bottom) / 2 + ') rotate(-90)')
        .attr('text-anchor', 'middle')
        .attr('font-family', FONT).attr('font-size', fontSize).attr('fill', color);
    parts.forEach(([s, sub], i) => {
        const ts = t.append('tspan').text(s);
        const prevSub = i > 0 && parts[i - 1][1];
        if (sub) ts.attr('font-size', fontSize * 0.72).attr('dy', fontSize * 0.3);
        else if (prevSub) ts.attr('dy', -fontSize * 0.3);
    });
}

function flagged(data, flags) {
    return data.filter(d => flags.some(([a, b]) => d[0] >= a && d[0] <= b));
}

function drawLine(p, y, data, color, width) {
    p.plot.append('path').datum(data)
        .attr('fill', 'none').attr('stroke', color).attr('stroke-width', width)
        .attr('stroke-linejoin', 'round')
        .attr('d', d3.line().x(d => x(d[0])).y(d => y(d[1])));
}

function drawCircles(p, y, data, color, r) {
    p.plot.append('g').selectAll(null).data(data).join('circle')
        .attr('cx', d => x(d[0])).attr('cy', d => y(d[1])).attr('r', r)
        .attr('fill', 'none').attr('stroke', color).attr('stroke-width', 1.7);
}

// ---- a) wind ----
const pa = makePanel(35, 126, 'a)', [0, 20], [0, 5, 10, 15, 20], 17);
const yDir = d3.scaleLinear().domain([0, 360]).range([pa.bottom, pa.top]);
drawLine(pa, pa.y, u10n, '#000', 1.6);
drawCircles(pa, pa.y, flagged(u10n, u10nFlag), '#000', 3.5);
pa.plot.append('g').selectAll(null).data(windDir).join('path')
    .attr('transform', d => 'translate(' + x(d[0]) + ',' + yDir(d[1]) + ')')
    .attr('d', 'M-3.5,-3.5L3.5,3.5M-3.5,3.5L3.5,-3.5')
    .attr('stroke', ORANGE).attr('stroke-width', 2.6).attr('fill', 'none');
drawFrame(pa, { y: yDir, ticks: [0, 90, 180, 270, 360], color: RED });
yTitle(38, pa, [['U', false], ['10N', true], [' [m/s]', false]], '#000', 17);
yTitle(899, pa, [['Dir [°]', false]], RED, 17);

// ---- b) temperature ----
const pb = makePanel(164, 254, 'b)', [15, 35], [15, 20, 25, 30, 35], 17);
drawLine(pb, pb.y, airTemp, '#000', 1.8);
drawLine(pb, pb.y, surfTemp, BLUE, 1.8);
drawFrame(pb, { y: pb.y, ticks: [15, 20, 25, 30, 35], color: NAVY });
yTitle(35, pb, [['T', false], ['a', true], [' [°C]', false]], '#000', 17);
yTitle(895, pb, [['T', false], ['s', true], [' [°C]', false]], NAVY, 17);

// ---- c) waves ----
const pc = makePanel(293, 383, 'c)', [0, 0.6], [0, 0.2, 0.4, 0.6], 17);
const yTp = d3.scaleLinear().domain([0, 3]).range([pc.bottom, pc.top]);
drawLine(pc, pc.y, waveHs, '#000', 1.6);
drawCircles(pc, pc.y, flagged(waveHs, waveHsFlag), '#000', 3.5);
drawLine(pc, yTp, peakTp, NAVY, 1.6);
drawCircles(pc, yTp, flagged(peakTp, peakTpFlag), LIGHTBLUE, 3.5);
drawFrame(pc, { y: yTp, ticks: [0, 1, 2, 3], color: NAVY });
yTitle(35, pc, [['H', false], ['s', true], [' [m]', false]], '#000', 17);
yTitle(895, pc, [['T', false], ['p', true], [' [s]', false]], NAVY, 17);

// ---- d) sigma_w / u* ----
const pd = makePanel(423, 513, 'd)', [0, 4], [0, 1, 2, 3, 4], 16);
drawLine(pd, pd.y, sigmaW, '#000', 1.5);
drawCircles(pd, pd.y, flagged(sigmaW, sigmaWFlag), '#000', 3.5);
drawFrame(pd, null);
yTitle(44, pd, [['σ', false], ['w', true], ['/u', false], ['*', true], [' [-]', false]], '#000', 15);

// ---- e) u* ----
const pe = makePanel(552, 641, 'e)', [0, 0.8], [0, 0.2, 0.4, 0.6, 0.8], 16);
drawLine(pe, pe.y, uStar, '#000', 1.5);
drawCircles(pe, pe.y, flagged(uStar, uStarFlag), '#000', 3.5);
drawFrame(pe, null);
yTitle(36, pe, [['u', false], ['*', true], [' [m/s]', false]], '#000', 17);

// rotated date labels under the last panel
svg.append('g').selectAll(null).data(dayTicks).join('text')
    .attr('transform', d => 'translate(' + (x(d) + 8) + ',662) rotate(-45)')
    .attr('text-anchor', 'end')
    .attr('font-family', FONT).attr('font-size', 15)
    .text((d, i) => dayLabels[i]);
</script>
</body>
</html>
